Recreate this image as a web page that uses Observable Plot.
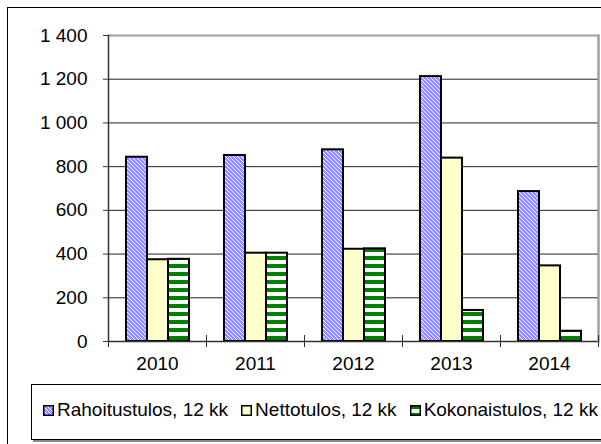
<!DOCTYPE html>
<html>
<head>
<meta charset="utf-8">
<script src="https://cdn.jsdelivr.net/npm/d3@7"></script>
<script src="https://cdn.jsdelivr.net/npm/@observablehq/plot@0.6"></script>
<style>
  html, body { margin: 0; padding: 0; background: #fff; overflow: hidden; width: 601px; height: 444px; }
  body { position: relative; font-family: Arial, "Liberation Sans", sans-serif; }
  #outer { position: absolute; left: 7px; top: 7px; width: 800px; height: 600px; border: 1px solid #000; box-sizing: border-box; }
  #chart { position: absolute; left: 0; top: 0; }
  #legend { position: absolute; left: 31px; top: 384px; width: 700px; height: 56px; box-sizing: border-box;
            border: 1px solid #000; box-shadow: 2px 2px 0 #8a8a8a; background: #fff; }
  #legend .row { position: absolute; left: 11px; top: 14px; white-space: nowrap; font-size: 19px; line-height: normal; color: #000; }
  #legend .item { display: inline-block; margin-right: 13px; }
  #legend svg { vertical-align: baseline; margin-right: 3px; }
</style>
</head>
<body>
<svg width="0" height="0" style="position:absolute">
  <defs>
    <pattern id="pBlue" width="4" height="4" patternUnits="userSpaceOnUse">
      <rect width="4" height="4" fill="#fff"/>
      <path d="M0 0h3v1h-3z M1 1h3v1h-3z M2 2h2v1h-2z M0 2h1v1h-1z M3 3h1v1h-1z M0 3h2v1h-2z" fill="#9090ff" shape-rendering="crispEdges"/>
    </pattern>
    <pattern id="pYellow" width="4" height="4" patternUnits="userSpaceOnUse">
      <rect width="4" height="4" fill="#ffffcc"/>
    </pattern>
    <pattern id="pGreen" width="8" height="8" patternUnits="userSpaceOnUse">
      <rect width="8" height="8" fill="#fff"/>
      <rect width="8" height="4" fill="#008000" shape-rendering="crispEdges"/>
    </pattern>
  </defs>
</svg>
<div id="outer"></div>
<div id="chart"></div>
<div id="legend"><div class="row" id="legendRow"></div></div>
<script>
// ---- data ----
const years = ["2010", "2011", "2012", "2013", "2014"];
const seriesNames = ["Rahoitustulos, 12 kk", "Nettotulos, 12 kk", "Kokonaistulos, 12 kk"];
const rahoitustulos = [843, 851, 877, 1212, 686];
const nettotulos = [374, 404, 422, 839, 346];
const kokonaistulos = [376, 404, 424, 142, 47];
const yTicks = [0, 200, 400, 600, 800, 1000, 1200, 1400];
const seriesFills = ["url(#pBlue)", "url(#pYellow)", "url(#pGreen)"];

const seriesValues = [rahoitustulos, nettotulos, kokonaistulos];
const table = [];
years.forEach((year, i) => {
  seriesNames.forEach((s, j) => table.push({year, series: s, value: seriesValues[j][i]}));
});

const fiFormat = d3.formatLocale({thousands: "\u00a0", grouping: [3], decimal: ","}).format(",");

const chart = Plot.plot({
  width: 601,
  height: 380,
  marginLeft: 108,
  marginRight: 3,
  marginTop: 35,
  marginBottom: 39,
  style: {fontFamily: "Arial, 'Liberation Sans', sans-serif", fontSize: "19px", color: "#000", background: "transparent", overflow: "visible"},
  fx: {domain: years, padding: 0, label: null, axis: null},
  x: {domain: seriesNames, paddingInner: 0, paddingOuter: 0.75, axis: null},
  y: {domain: [0, 1400], label: null},
  color: {domain: seriesNames, range: seriesFills},
  marks: [
    Plot.gridY(yTicks.filter(t => t > 0 && t < 1400), {stroke: "#222", strokeOpacity: 1}),
    Plot.gridY([1400], {stroke: "#a0a0a0", strokeOpacity: 1, strokeWidth: 2}),
    Plot.barY(table, {fx: "year", x: "series", y: "value", fill: "series", stroke: "#000", strokeWidth: 2}),
    Plot.ruleY([0], {stroke: "#333", strokeWidth: 1.5}),
    Plot.frame({anchor: "left", facetAnchor: "left", stroke: "#333", strokeWidth: 1.5}),
    Plot.frame({anchor: "right", facetAnchor: "right", stroke: "#a0a0a0", strokeWidth: 2.5}),
    Plot.frame({anchor: "left", insetTop: 300, insetBottom: -5, stroke: "#333"}),
    Plot.frame({anchor: "right", facetAnchor: "right", insetTop: 300, insetBottom: -5, stroke: "#333"}),
    Plot.axisY(yTicks, {tickSize: 5, tickPadding: 16, tickFormat: fiFormat, label: null, stroke: "#333"}),
    Plot.axisFx({anchor: "bottom", tickSize: 0, tickPadding: 15, label: null, fontWeight: "normal"})
  ]
});
document.getElementById("chart").appendChild(chart);

// ---- legend ----
const row = document.getElementById("legendRow");
seriesNames.forEach((name, i) => {
  const item = document.createElement("span");
  item.className = "item";
  item.innerHTML = `<svg width="11" height="11"><rect x="0.75" y="0.75" width="9.5" height="9.5" fill="${seriesFills[i]}" stroke="#000" stroke-width="1.5"/></svg>`;
  item.appendChild(document.createTextNode(name));
  row.appendChild(item);
});
</script>
</body>
</html>
